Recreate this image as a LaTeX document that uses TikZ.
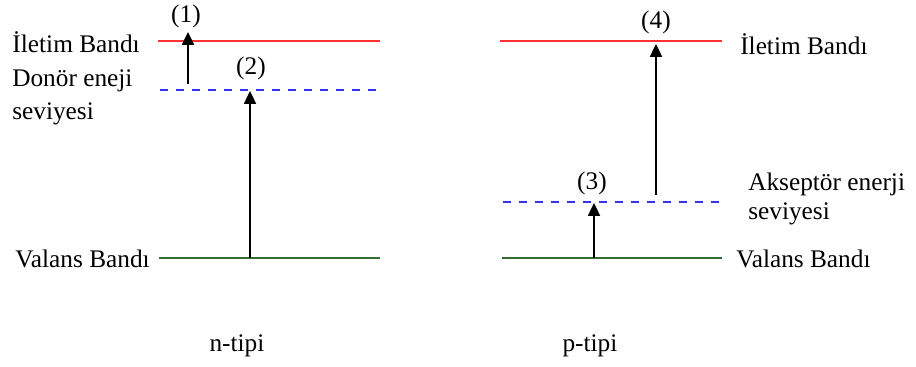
\documentclass[tikz,border=0pt]{standalone}
\usepackage{fontspec}
\setmainfont{Liberation Serif}
\usetikzlibrary{arrows.meta}
\definecolor{bandred}{RGB}{250,50,50}
\definecolor{levelblue}{RGB}{50,50,245}
\definecolor{bandgreen}{RGB}{50,110,50}
\begin{document}
\begin{tikzpicture}[
x=0.025cm,y=-0.025cm,
lbl/.style={
inner sep=0pt,
font=\fontsize{18}{20}\selectfont
},
conduction/.style={draw=bandred, line width=1.6pt},
impurity/.style={draw=levelblue, line width=1.3pt, dash pattern=on 0.2cm off 0.2cm},
valence/.style={draw=bandgreen, line width=1.6pt},
arrow/.style={-{Triangle[length=0.32cm,width=0.3cm]}, line width=1.2pt}
]
\useasboundingbox (0,0) rectangle (916,367);

% =======================
% LEFT DIAGRAM (N-TYPE)
% =======================

\coordinate (ncL) at (158,41);  \coordinate (ncR) at (380,41);
\coordinate (ndL) at (160,90);  \coordinate (ndR) at (380,90);
\coordinate (nvL) at (159,258); \coordinate (nvR) at (380,258);

\draw[conduction] (ncL) -- (ncR);
\draw[impurity] (ndL) -- (ndR);
\draw[valence] (nvL) -- (nvR);

\coordinate (n1s) at (188,84);  \coordinate (n1e) at (188,32);
\coordinate (n2s) at (250,258); \coordinate (n2e) at (250,91);

\draw[arrow] (n1s) -- (n1e);
\draw[arrow] (n2s) -- (n2e);

\node[lbl,anchor=east] (ncond) at (140,42) {İletim Bandı};
\node[lbl,anchor=west,align=left,font=\fontsize{18}{23.5}\selectfont] (ndonor) at (12,97)
{Donör eneji\\seviyesi};
\node[lbl,anchor=east] (nval) at (150,259) {Valans Bandı};

\node[lbl] (n1) at (186,16) {(1)};
\node[lbl] (n2) at (251,68) {(2)};

% =======================
% RIGHT DIAGRAM (P-TYPE)
% =======================

\coordinate (pcL) at (500,41);  \coordinate (pcR) at (722,41);
\coordinate (paL) at (503,202); \coordinate (paR) at (722,202);
\coordinate (pvL) at (502,258); \coordinate (pvR) at (722,258);

\draw[conduction] (pcL) -- (pcR);
\draw[impurity] (paL) -- (paR);
\draw[valence] (pvL) -- (pvR);

\coordinate (p3s) at (594,258); \coordinate (p3e) at (594,203);
\coordinate (p4s) at (656,195); \coordinate (p4e) at (656,44);

\draw[arrow] (p3s) -- (p3e);
\draw[arrow] (p4s) -- (p4e);

\node[lbl,anchor=west] (pcond) at (740,44) {İletim Bandı};
\node[lbl,anchor=west,align=left] (pacc) at (748,199)
{Akseptör enerji\\seviyesi};
\node[lbl,anchor=west] (pval) at (736,259) {Valans Bandı};

\node[lbl] (p3) at (592,183) {(3)};
\node[lbl] (p4) at (656,22) {(4)};

% =======================
% TITLES
% =======================

\node[lbl] (ntype) at (237,346) {n-tipi};
\node[lbl] (ptype) at (590,346) {p-tipi};

\end{tikzpicture}
\end{document}
